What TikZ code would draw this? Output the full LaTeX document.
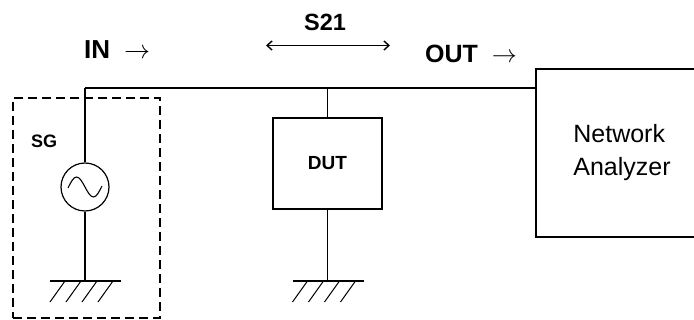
\documentclass[tikz,border=0pt]{standalone}
\usepackage{fix-cm}
\usepackage{fontspec}
\setmainfont{Liberation Sans}
\usepackage{tikz}
\usetikzlibrary{positioning,arrows.meta}

\tikzset{
  wire/.style={line width=1.2pt},
  unitbox/.style={draw, line width=1.2pt, inner sep=0pt},
  boldlbl/.style={inner sep=0pt, font=\bfseries},
  gnd/.pic={
    \draw[wire] (-35,0) -- (36,0);
    \foreach \dx in {-20,-4,12,28}
      \draw[line width=1pt] (\dx,0) -- ++(-15,21);
  }
}

\begin{document}
\begin{tikzpicture}[x=1pt, y=-1pt]
\useasboundingbox (0,0) rectangle (694,320);

% labels above the line
\node[boldlbl, anchor=base west, font=\fontsize{26}{30}\selectfont\bfseries] (inlbl) at (84,59) {IN\hspace{14pt}$\rightarrow$};
\node[boldlbl, anchor=base, font=\fontsize{23.5}{28}\selectfont\bfseries] (s21lbl) at (325,31) {S21};
\node[boldlbl, anchor=base west, font=\fontsize{25}{30}\selectfont\bfseries] (outlbl) at (425,63) {OUT\hspace{14pt}$\rightarrow$};

\coordinate (s21left) at (266,45.5);
\coordinate (s21right) at (390,45.5);
\draw[line width=1.4pt, {Straight Barb[length=5pt,width=9pt]}-{Straight Barb[length=5pt,width=9pt]}] (s21left) -- (s21right);

% signal generator
\node[draw, dashed, line width=1.4pt, dash pattern=on 9pt off 5pt, minimum width=147pt, minimum height=220pt, inner sep=0pt] (sgframe) at (86.5,208) {};
\node[boldlbl, anchor=base west, font=\fontsize{18}{22}\selectfont\bfseries] (sglbl) at (31,148) {SG};
\node[draw, circle, line width=1.2pt, minimum size=48pt, inner sep=0pt] (sg) at (85,187) {};
\draw[line width=1.1pt] (sg.center) ++(-17,1) sin ++(8.5,-11) cos ++(8.5,10) sin ++(8.5,10) cos ++(8.5,-11);

% device and analyzer
\node[unitbox, minimum width=109pt, minimum height=91pt, font=\fontsize{19}{22}\selectfont\bfseries] (dut) at (327.5,163.5) {DUT};
\node[unitbox, minimum width=172pt, minimum height=168pt, align=left, font=\fontsize{25}{33}\selectfont] (na) at (622,153) {Network\\Analyzer};

% wiring
\coordinate (sgtap) at (85,88);
\coordinate (duttap) at (327.5,88);
\coordinate (sggnd) at (85,281);
\coordinate (dutgnd) at (327.5,281);
\draw[wire] (sgtap) -- (duttap) -- (na.west |- sgtap);
\draw[wire] (sgtap) -- (sg.north);
\draw[wire] (sg.south) -- (sggnd);
\draw[wire] (duttap) -- (dut.north);
\draw[wire] (dut.south) -- (dutgnd);
\pic at (sggnd) {gnd};
\pic at (dutgnd) {gnd};

\end{tikzpicture}
\end{document}
